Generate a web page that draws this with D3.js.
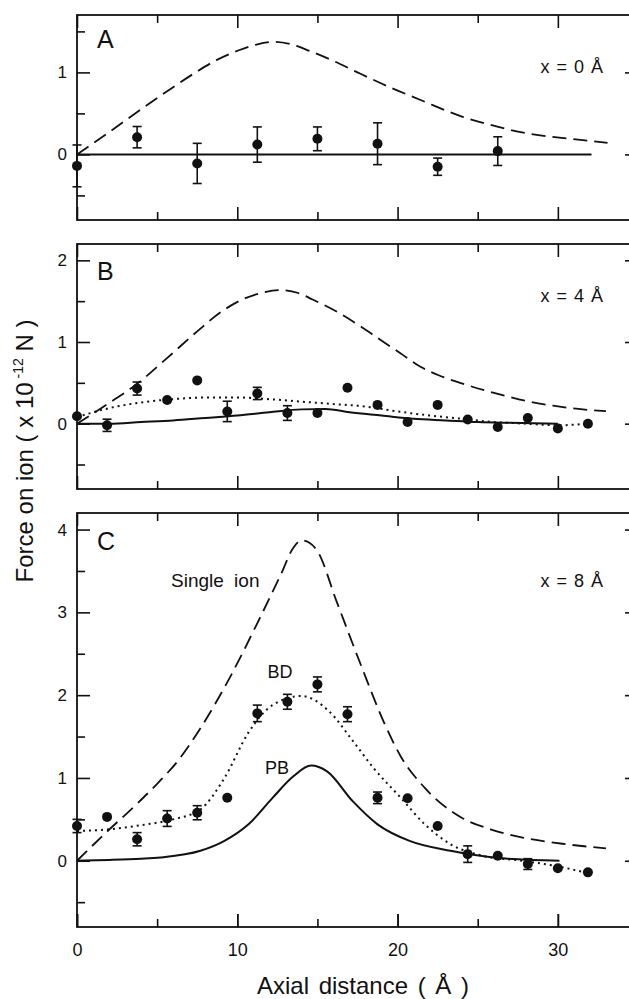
<!DOCTYPE html>
<html>
<head>
<meta charset="utf-8">
<script src="https://cdn.jsdelivr.net/npm/d3@7"></script>
<style>
  body { margin: 0; background: #fff; }
  svg { display: block; font-family: "Liberation Sans", Arial, sans-serif; }
</style>
</head>
<body>
<div id="chart"></div>
<script>
// ---- data (Force in units of 1e-12 N, axial distance in Angstrom)

// panel A : x = 0 A
var ptsAx = [0, 3.75, 7.5, 11.25, 15, 18.75, 22.5, 26.25];
var ptsAy = [-0.14, 0.21, -0.11, 0.12, 0.19, 0.13, -0.15, 0.04];
var ptsAerr = [0.255, 0.13, 0.245, 0.215, 0.145, 0.255, 0.105, 0.175];
var singleA = [[0, 0], [2, 0.27], [4, 0.55], [6, 0.82], [7.4, 1.0], [8.7, 1.15], [10.1, 1.27],
  [11.2, 1.34], [12.3, 1.372], [13.4, 1.34], [14.5, 1.263], [16, 1.14], [17.5, 1.0], [19.5, 0.82],
  [21.4, 0.666], [22.2, 0.6], [24.1, 0.455], [26, 0.35], [27.6, 0.274], [29, 0.23], [30.8, 0.19], [33.1, 0.14]];
var pbA = [[0, 0], [32.1, 0]];

// panel B : x = 4 A
var ptsBx = [0, 1.875, 3.75, 5.625, 7.5, 9.375, 11.25, 13.125, 15, 16.875, 18.75, 20.625, 22.5, 24.375, 26.25, 28.125, 30, 31.875];
var ptsBy = [0.09, -0.02, 0.43, 0.29, 0.53, 0.15, 0.37, 0.13, 0.13, 0.44, 0.23, 0.02, 0.23, 0.05, -0.04, 0.07, -0.06, 0.0];
var ptsBerr = [0, 0.075, 0.08, 0, 0, 0.125, 0.075, 0.09, 0, 0, 0, 0, 0, 0, 0, 0, 0, 0];
var singleB = [[0, 0], [1.9, 0.24], [3.7, 0.48], [5.6, 0.8], [7.5, 1.13], [9, 1.37], [10.2, 1.51],
  [11.5, 1.6], [12.7, 1.635], [13.8, 1.6], [14.7, 1.52], [16.4, 1.35], [17.7, 1.19], [18.9, 1.03],
  [20.2, 0.86], [21.4, 0.7], [22.6, 0.59], [23.9, 0.5], [25.4, 0.41], [26.8, 0.336], [28.2, 0.27],
  [29.7, 0.22], [31.3, 0.18], [33, 0.153]];
var bdB = [[0, 0.08], [2, 0.19], [4, 0.26], [6, 0.3], [8, 0.32], [10, 0.32], [12, 0.3], [14, 0.27],
  [16, 0.24], [18, 0.21], [20, 0.15], [22, 0.1], [24, 0.06], [26, 0.02], [28, 0.0], [30, -0.02], [31.9, 0.0]];
var pbB = [[0, 0], [2, 0.0], [4, 0.02], [6, 0.04], [8, 0.07], [10, 0.1], [12, 0.14], [14, 0.175],
  [15.5, 0.18], [17, 0.14], [19, 0.1], [21, 0.06], [23, 0.04], [25, 0.02], [27, 0.01], [30, 0]];

// panel C : x = 8 A
var ptsCx = [0, 1.875, 3.75, 5.625, 7.5, 9.375, 11.25, 13.125, 15, 16.875, 18.75, 20.625, 22.5, 24.375, 26.25, 28.125, 30, 31.875];
var ptsCy = [0.42, 0.53, 0.26, 0.51, 0.58, 0.76, 1.78, 1.92, 2.13, 1.77, 0.76, 0.755, 0.42, 0.08, 0.06, -0.04, -0.09, -0.14];
var ptsCerr = [0.08, 0, 0.08, 0.095, 0.085, 0, 0.1, 0.09, 0.09, 0.09, 0.07, 0, 0, 0.1, 0, 0.065, 0, 0];
var singleC = [[0, 0], [1.7, 0.32], [3.7, 0.68], [5.0, 0.93], [6.35, 1.22], [7.7, 1.6], [9.5, 2.2], [11.2, 2.85],
  [12.7, 3.45], [13.5, 3.78], [14.0, 3.87], [14.5, 3.84], [15.0, 3.74], [16.2, 3.13], [17.7, 2.37],
  [19.2, 1.65], [20.2, 1.26], [21.7, 0.88], [24, 0.52], [25.8, 0.38], [27.8, 0.28], [30.5, 0.2], [33, 0.15]];
var bdC = [[0, 0.36], [2, 0.38], [4, 0.43], [6, 0.5], [7.7, 0.62], [9.2, 1.0], [10.7, 1.55], [12.2, 1.88],
  [14, 1.99], [15.7, 1.81], [17.2, 1.45], [18.5, 1.12], [20.2, 0.76], [21.7, 0.44], [23.3, 0.2],
  [25.3, 0.06], [27.8, 0.0], [30.3, -0.08], [31.9, -0.15]];
var pbC = [[0, 0], [2, 0.01], [4, 0.025], [5.2, 0.04], [7.7, 0.12], [9.2, 0.24], [10.7, 0.44], [12.2, 0.76],
  [13.5, 1.02], [14.6, 1.15], [15.6, 1.08], [17.2, 0.72], [18.75, 0.44], [20.75, 0.24], [23.3, 0.12],
  [26.5, 0.03], [30.1, 0]];

// tick values
var xMajorTicks = [0, 10, 20, 30];
var xMinorTicks = [5, 15, 25];
var xTickLabels = ["0", "10", "20", "30"];
var yDomainA = [-0.8, 1.7], yDomainB = [-0.8, 2.2], yDomainC = [-0.8, 4.2];
var yMajorA = [0, 1], yMinorA = [-0.5, 0.5, 1.5];
var yMajorB = [0, 1, 2], yMinorB = [-0.5, 0.5, 1.5];
var yMajorC = [0, 1, 2, 3, 4], yMinorC = [-0.5, 0.5, 1.5, 2.5, 3.5];

// ---- layout
var width = 629, height = 999;
var left = 77, right = 638;

var svg = d3.select("#chart").append("svg")
  .attr("width", width)
  .attr("height", height);

var x = d3.scaleLinear().domain([0, 35]).range([left, right]);

function zip(xs, ys, es) {
  return xs.map(function(d, i) { return {x: d, y: ys[i], e: es[i]}; });
}

function drawPanel(p) {
  var y = d3.scaleLinear().domain(p.domain).range([p.bottom, p.top]);
  var g = svg.append("g");

  // ticks, all pointing inward
  function tickAxis(axis, vals, size, transform, labels) {
    var a = axis.tickValues(vals).tickSizeInner(-size).tickSizeOuter(0);
    if (!labels) a.tickFormat("");
    var ag = g.append("g").attr("transform", transform).call(a);
    ag.select(".domain").remove();
    ag.selectAll("line").attr("stroke", "#111").attr("stroke-width", 1.6);
    return ag;
  }
  tickAxis(d3.axisBottom(x), xMajorTicks, 13, "translate(0," + p.bottom + ")", false);
  tickAxis(d3.axisBottom(x), xMinorTicks, 8, "translate(0," + p.bottom + ")", false);
  tickAxis(d3.axisTop(x), xMajorTicks, 13, "translate(0," + p.top + ")", false);
  tickAxis(d3.axisTop(x), xMinorTicks, 8, "translate(0," + p.top + ")", false);
  var yl = tickAxis(d3.axisLeft(y).tickFormat(d3.format("d")), p.major, 13, "translate(" + left + ",0)", true);
  yl.selectAll("text").attr("x", -10).attr("font-size", 17).attr("fill", "#111")
    .attr("font-family", "Liberation Sans, Arial, sans-serif");
  tickAxis(d3.axisLeft(y), p.minor, 8, "translate(" + left + ",0)", false);
  tickAxis(d3.axisRight(y), p.major, 13, "translate(" + right + ",0)", false);
  tickAxis(d3.axisRight(y), p.minor, 8, "translate(" + right + ",0)", false);

  if (p.xLabels) {
    var xl = tickAxis(d3.axisBottom(x).tickFormat(function(d, i) { return xTickLabels[i]; }),
      xMajorTicks, 13, "translate(0," + p.bottom + ")", true);
    xl.selectAll("text").attr("y", 16).attr("font-size", 18).attr("fill", "#111")
      .attr("font-family", "Liberation Sans, Arial, sans-serif");
  }

  // frame
  g.append("rect")
    .attr("x", left).attr("y", p.top)
    .attr("width", right - left).attr("height", p.bottom - p.top)
    .attr("fill", "none").attr("stroke", "#111").attr("stroke-width", 1.8);

  var line = d3.line()
    .x(function(d) { return x(d[0]); })
    .y(function(d) { return y(d[1]); })
    .curve(d3.curveMonotoneX);

  g.append("path").attr("d", line(p.single))
    .attr("fill", "none").attr("stroke", "#111").attr("stroke-width", 1.8)
    .attr("stroke-dasharray", "14,7");
  if (p.bd) {
    g.append("path").attr("d", line(p.bd))
      .attr("fill", "none").attr("stroke", "#111").attr("stroke-width", 2)
      .attr("stroke-dasharray", "2,4");
  }
  g.append("path").attr("d", line(p.pb))
    .attr("fill", "none").attr("stroke", "#111").attr("stroke-width", 2);

  var pts = zip(p.px, p.py, p.pe);
  var eb = g.selectAll(".eb").data(pts.filter(function(d) { return d.e > 0; }))
    .enter().append("g").attr("stroke", "#111").attr("stroke-width", 1.6);
  eb.append("line")
    .attr("x1", function(d) { return x(d.x); }).attr("x2", function(d) { return x(d.x); })
    .attr("y1", function(d) { return y(d.y - d.e); }).attr("y2", function(d) { return y(d.y + d.e); });
  eb.append("line")
    .attr("x1", function(d) { return x(d.x) - 4.5; }).attr("x2", function(d) { return x(d.x) + 4.5; })
    .attr("y1", function(d) { return y(d.y - d.e); }).attr("y2", function(d) { return y(d.y - d.e); });
  eb.append("line")
    .attr("x1", function(d) { return x(d.x) - 4.5; }).attr("x2", function(d) { return x(d.x) + 4.5; })
    .attr("y1", function(d) { return y(d.y + d.e); }).attr("y2", function(d) { return y(d.y + d.e); });

  g.selectAll(".pt").data(pts).enter().append("circle")
    .attr("cx", function(d) { return x(d.x); })
    .attr("cy", function(d) { return y(d.y); })
    .attr("r", 5)
    .attr("fill", "#111");

  // panel letter and position label
  g.append("text").attr("x", 97).attr("y", p.letterY)
    .attr("font-size", 25).attr("fill", "#111").text(p.letter);
  g.append("text").attr("x", 603).attr("y", p.posY)
    .attr("text-anchor", "end").attr("font-size", 18).attr("word-spacing", 2)
    .attr("fill", "#111").text(p.pos);

  return y;
}

drawPanel({top: 15, bottom: 220, domain: yDomainA, major: yMajorA, minor: yMinorA,
  px: ptsAx, py: ptsAy, pe: ptsAerr, single: singleA, pb: pbA,
  letter: "A", letterY: 48, pos: "x = 0 Å", posY: 73});
drawPanel({top: 244, bottom: 489, domain: yDomainB, major: yMajorB, minor: yMinorB,
  px: ptsBx, py: ptsBy, pe: ptsBerr, single: singleB, bd: bdB, pb: pbB,
  letter: "B", letterY: 280, pos: "x = 4 Å", posY: 302});
drawPanel({top: 513, bottom: 927, domain: yDomainC, major: yMajorC, minor: yMinorC,
  px: ptsCx, py: ptsCy, pe: ptsCerr, single: singleC, bd: bdC, pb: pbC, xLabels: true,
  letter: "C", letterY: 550, pos: "x = 8 Å", posY: 587});

// curve labels in panel C
svg.append("text").attr("x", 171).attr("y", 587).attr("font-size", 19)
  .attr("word-spacing", 5).attr("fill", "#111").text("Single ion");
svg.append("text").attr("x", 280).attr("y", 678).attr("text-anchor", "middle")
  .attr("font-size", 18).attr("fill", "#111").text("BD");
svg.append("text").attr("x", 277).attr("y", 774).attr("text-anchor", "middle")
  .attr("font-size", 18).attr("fill", "#111").text("PB");

// axis titles
svg.append("text").attr("x", 363).attr("y", 994).attr("text-anchor", "middle")
  .attr("font-size", 24).attr("word-spacing", 3).attr("fill", "#111").text("Axial distance ( Å )");

var yt = svg.append("text")
  .attr("transform", "translate(33,451) rotate(-90)")
  .attr("text-anchor", "middle").attr("font-size", 24).attr("fill", "#111");
yt.append("tspan").text("Force on ion ( x 10");
yt.append("tspan").attr("font-size", 14).attr("dy", -10).text(" -12");
yt.append("tspan").attr("dy", 10).text(" N )");
</script>
</body>
</html>
